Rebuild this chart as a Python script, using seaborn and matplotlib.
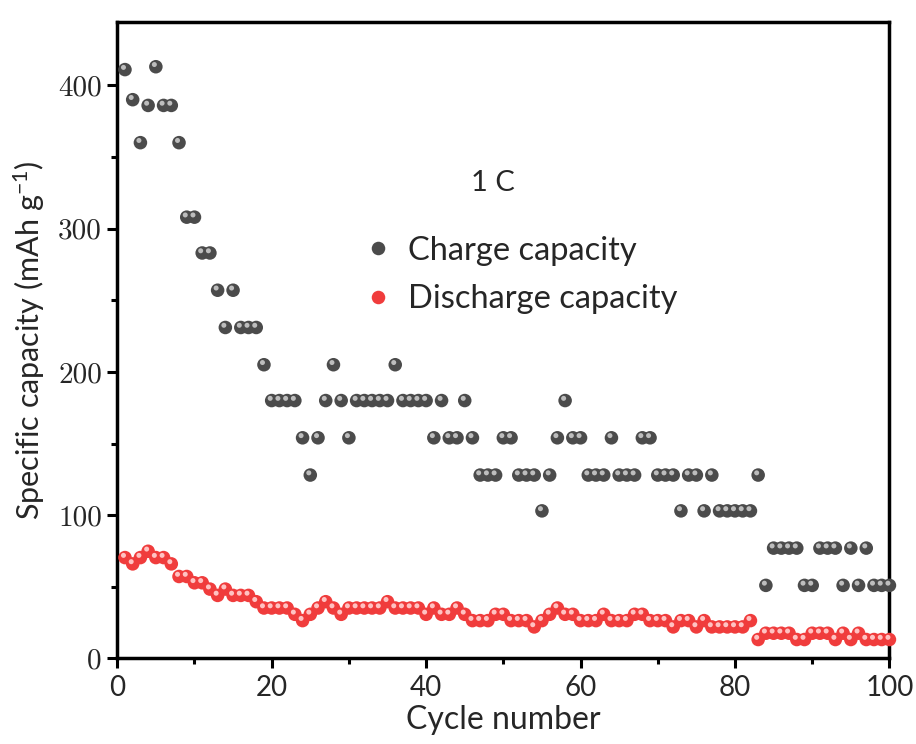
import pandas as pd
import seaborn as sns
import matplotlib.pyplot as plt
from matplotlib.ticker import MultipleLocator
from matplotlib.transforms import offset_copy

# values
cycles = list(range(1, 101))
charge = [411, 390, 360, 386, 413, 386, 386, 360, 308, 308,
          283, 283, 257, 231, 257, 231, 231, 231, 205, 180,
          180, 180, 180, 154, 128, 154, 180, 205, 180, 154,
          180, 180, 180, 180, 180, 205, 180, 180, 180, 180,
          154, 180, 154, 154, 180, 154, 128, 128, 128, 154,
          154, 128, 128, 128, 103, 128, 154, 180, 154, 154,
          128, 128, 128, 154, 128, 128, 128, 154, 154, 128,
          128, 128, 103, 128, 128, 103, 128, 103, 103, 103,
          103, 103, 128, 51, 77, 77, 77, 77, 51, 51,
          77, 77, 77, 51, 77, 51, 77, 51, 51, 51]
discharge = [70.4, 66.0, 70.4, 74.8, 70.4, 70.4, 66.0, 57.2, 57.2, 52.8,
             52.8, 48.4, 44.0, 48.4, 44.0, 44.0, 44.0, 39.6, 35.2, 35.2,
             35.2, 35.2, 30.8, 26.4, 30.8, 35.2, 39.6, 35.2, 30.8, 35.2,
             35.2, 35.2, 35.2, 35.2, 39.6, 35.2, 35.2, 35.2, 35.2, 30.8,
             35.2, 30.8, 30.8, 35.2, 30.8, 26.4, 26.4, 26.4, 30.8, 30.8,
             26.4, 26.4, 26.4, 22.0, 26.4, 30.8, 35.2, 30.8, 30.8, 26.4,
             26.4, 26.4, 30.8, 26.4, 26.4, 26.4, 30.8, 30.8, 26.4, 26.4,
             26.4, 22.0, 26.4, 26.4, 22.0, 26.4, 22.0, 22.0, 22.0, 22.0,
             22.0, 26.4, 13.2, 17.6, 17.6, 17.6, 17.6, 13.2, 13.2, 17.6,
             17.6, 17.6, 13.2, 17.6, 13.2, 17.6, 13.2, 13.2, 13.2, 13.2]

df = pd.DataFrame({"Cycle": cycles,
                   "Charge capacity": charge,
                   "Discharge capacity": discharge})
long = df.melt(id_vars="Cycle", var_name="Series", value_name="Capacity")

sns.set_theme(style="ticks")
plt.rcParams["font.family"] = ["Lato", "DejaVu Sans"]

fig = plt.figure(figsize=(9.16, 7.44), dpi=100)
ax = fig.add_axes([0.128, 0.115, 0.843, 0.855])

palette = {"Charge capacity": "#4b4b4b", "Discharge capacity": "#f03c3c"}
shine = {"Charge capacity": "#bdbdbd", "Discharge capacity": "#ffc2c2"}

sns.scatterplot(data=long, x="Cycle", y="Capacity", hue="Series",
                palette=palette, s=95, linewidth=0, ax=ax, zorder=3,
                clip_on=False)
# small light spot on each ball to fake the 3D shading
glint = offset_copy(ax.transData, fig=fig, x=-1.5, y=2.2, units="dots")
sns.scatterplot(data=long, x="Cycle", y="Capacity", hue="Series",
                palette=shine, s=13, linewidth=0, ax=ax, legend=False,
                transform=glint, zorder=4, clip_on=False)

ax.set_xlim(0, 100)
ax.set_ylim(0, 444)
ax.xaxis.set_major_locator(MultipleLocator(20))
ax.xaxis.set_minor_locator(MultipleLocator(10))
ax.yaxis.set_major_locator(MultipleLocator(100))
ax.yaxis.set_minor_locator(MultipleLocator(50))

for side in ax.spines.values():
    side.set_linewidth(2.5)
    side.set_color("black")
ax.tick_params(which="major", direction="out", length=7, width=2.2, color="black")
ax.tick_params(which="minor", direction="out", length=4, width=2.2, color="black")
ax.tick_params(axis="x", labelsize=20, pad=5)
ax.tick_params(axis="y", labelsize=21, pad=4)
for lbl in ax.get_yticklabels():
    lbl.set_fontfamily("cmr10")

ax.set_xlabel("Cycle number", fontsize=23, labelpad=3)
ax.set_ylabel("Specific capacity (mAh g$\\mathregular{^{-1}}$)", fontsize=22, labelpad=8)

ax.text(48.6, 332, "1 C", ha="center", va="center", fontsize=21)

leg = ax.legend(loc="upper left", bbox_to_anchor=(0.381, 0.701),
                bbox_transform=fig.transFigure, frameon=False, fontsize=23.5,
                borderaxespad=0, handlelength=1.0, handletextpad=0.42,
                labelspacing=0.58, markerscale=1.0, title=None)

fig.savefig("out.png", dpi=100)
